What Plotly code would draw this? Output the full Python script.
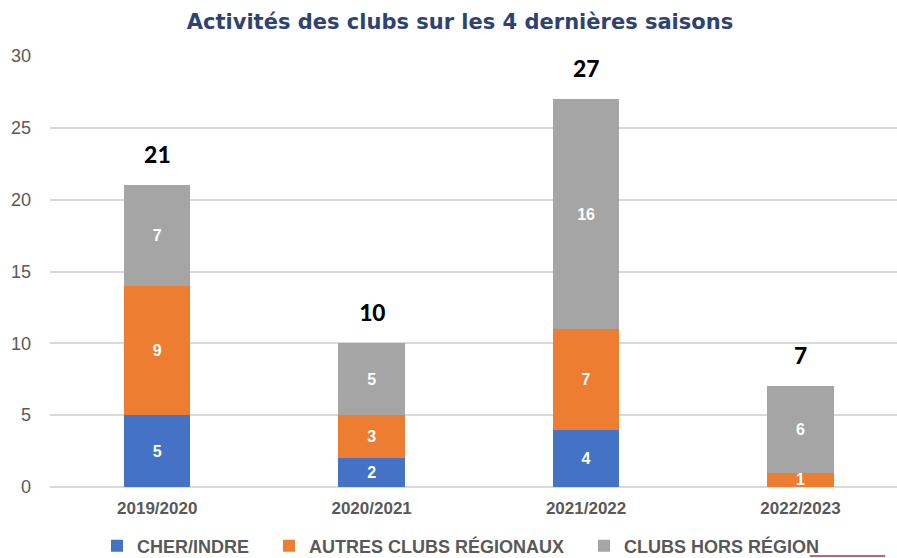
import plotly.graph_objects as go

seasons = ["2019/2020", "2020/2021", "2021/2022", "2022/2023"]
cher_indre = [5, 2, 4, 0]
autres_regionaux = [9, 3, 7, 1]
hors_region = [7, 5, 16, 6]
totals = [a + b + c for a, b, c in zip(cher_indre, autres_regionaux, hors_region)]
y_ticks = [0, 5, 10, 15, 20, 25, 30]

series = [
    ("CHER/INDRE", cher_indre, "#4472C4", "legend", 97),
    ("AUTRES CLUBS RÉGIONAUX", autres_regionaux, "#ED7D31", "legend2", 269),
    ("CLUBS HORS RÉGION", hors_region, "#A5A5A5", "legend3", 584),
]

FONT = "Liberation Sans, Arial, sans-serif"
L, PW = 50, 847

fig = go.Figure()
legends = {}
for name, vals, color, leg, lx in series:
    fig.add_trace(go.Bar(
        name=f"<b>{name}</b>", x=seasons, y=vals, marker_color=color,
        text=[f"<b>{v}</b>" if v else "" for v in vals],
        textposition="inside", insidetextanchor="middle", textangle=0,
        textfont=dict(color="white", size=16, family=FONT),
        marker_line_width=0, legend=leg,
    ))
    legends[leg] = dict(orientation="h", x=(lx - L) / PW, xanchor="left", y=-0.137, yanchor="middle",
                        font=dict(size=18, color="#595959", family=FONT), itemwidth=30,
                        bgcolor="rgba(0,0,0,0)")

for s, t in zip(seasons, totals):
    fig.add_annotation(x=s, y=t, text=f"<b>{t}</b>", showarrow=False,
                       yshift=31, font=dict(size=26, color="black", family="Carlito, Calibri, Arial, sans-serif"))

fig.add_shape(type="line", xref="paper", yref="paper", x0=0.897, x1=0.986, y0=-0.16, y1=-0.16,
              line=dict(color="#B0303A", width=1.5))

fig.update_layout(
    width=897, height=558,
    barmode="stack", bargap=0.69,
    paper_bgcolor="white", plot_bgcolor="white",
    margin=dict(l=L, r=0, t=56, b=71, autoexpand=False),
    title=dict(text="<b>Activités des clubs sur les 4 dernières saisons</b>", x=460 / 897, xanchor="center",
               xref="container", y=0.962, yanchor="middle",
               font=dict(size=21, color="#2E4372", family="DejaVu Sans, Verdana, sans-serif")),
    uniformtext=dict(minsize=16, mode="show"),
    showlegend=True,
    xaxis=dict(range=[-0.5, 3.45], showgrid=False, showline=False, ticks="",
               tickvals=seasons, ticktext=[f"<b>{s}</b>" for s in seasons],
               tickfont=dict(size=17, color="#595959", family=FONT), ticklabelstandoff=9),
    yaxis=dict(range=[0, 30], tickvals=y_ticks, showgrid=True, gridcolor="#D9D9D9", gridwidth=1.5,
               zeroline=True, zerolinecolor="#D9D9D9", zerolinewidth=1.5,
               tickfont=dict(size=18, color="#595959", family=FONT), ticks="", ticklabelstandoff=18),
    **legends,
)

fig.write_html("out.html", config={"displayModeBar": False},
               post_script="document.body.style.margin='0';")
